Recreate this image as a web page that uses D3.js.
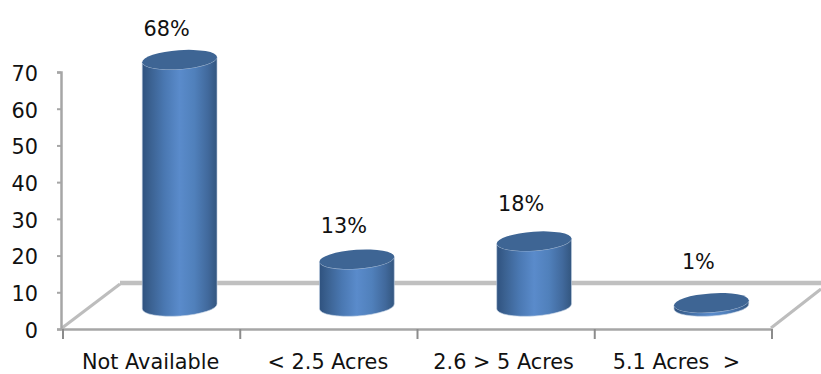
<!DOCTYPE html>
<html><head><meta charset="utf-8">
<script src="https://cdn.jsdelivr.net/npm/d3@7/dist/d3.min.js"></script>
<style>html,body{margin:0;padding:0;background:#fff;overflow:hidden}svg{display:block}text{font-family:"DejaVu Sans",sans-serif;fill:#111}</style>
</head><body><script>
const categories = ["Not Available", "< 2.5 Acres", "2.6 > 5 Acres", "5.1 Acres  >"];
const values = [68, 13, 18, 1];
const valueLabels = ["68%", "13%", "18%", "1%"];
const labelGaps = [24, 26, 30, 34];
const categoryShifts = [0, 0, -1.5, -6];
const yTicks = [0, 10, 20, 30, 40, 50, 60, 70];

const W = 821, H = 374, fs = 20.8;
const svg = d3.select("body").append("svg").attr("width", W).attr("height", H);
const y = d3.scaleLinear().domain([0, 70]).range([329, 72]);
const yBar = d3.scaleLinear().domain([0, 70]).range([306.5, 52.4]);
const xAxisScale = d3.scaleBand().domain(categories).range([62, 771]);
const xBar = d3.scaleBand().domain(categories).range([91, 800]);

const defs = svg.append("defs");
const g = defs.append("linearGradient").attr("id", "side");
[[0, "#2f527f"], [0.1, "#3a608f"], [0.3, "#4a78b2"], [0.5, "#5a8bcb"], [0.7, "#5080bb"], [0.88, "#41699c"], [1, "#33567f"]]
  .forEach(([o, c]) => g.append("stop").attr("offset", o).attr("stop-color", c));

// floor
const floor = svg.append("g").attr("fill", "none");
floor.append("path").attr("d", "M120,283L821,283").attr("stroke", "#c0c0c0").attr("stroke-width", 4.5);
floor.append("path").attr("d", "M62,328L120,284").attr("stroke", "#bdbdbd").attr("stroke-width", 3);
floor.append("path").attr("d", "M771,328L821,289").attr("stroke", "#bdbdbd").attr("stroke-width", 3);

// axes
const yAxis = d3.axisLeft(y).tickValues(yTicks).tickSize(4).tickPadding(6);
const yg = svg.append("g").attr("transform", "translate(61,0)").call(yAxis);
yg.select(".domain").attr("stroke", "#a6a6a6").attr("stroke-width", 2.5);
yg.selectAll(".tick line").attr("stroke", "#a6a6a6").attr("stroke-width", 2);
yg.selectAll("text").attr("font-size", fs).attr("dx", -13).attr("dy", "0.4em");

const bottom = d3.axisBottom(xAxisScale).tickSize(0).tickPadding(25);
const xg = svg.append("g").attr("transform", "translate(0,329)").call(bottom);
xg.select(".domain").attr("stroke", "#a6a6a6").attr("stroke-width", 2.5);
xg.selectAll("text").attr("font-size", fs).attr("xml:space", "preserve").style("white-space", "pre")
  .attr("dx", (d, i) => categoryShifts[i]);
const boundaries = categories.map(c => xAxisScale(c)).concat(xAxisScale.range()[1]);
xg.selectAll("line.t").data(boundaries).join("line").attr("class", "t")
  .attr("x1", d => d + 1).attr("x2", d => d + 1).attr("y1", 0).attr("y2", 10)
  .attr("stroke", "#8c8c8c").attr("stroke-width", 2);

// cylinders
const rx = 37.5, ry = 9.5, rot = -4, th = rot * Math.PI / 180;
const dx = rx * Math.cos(th), dy = -rx * Math.sin(th);
const bars = svg.selectAll("g.bar").data(categories.map((c, i) => ({c, v: values[i]}))).join("g").attr("class", "bar");
bars.append("path")
  .attr("d", d => {
    const cx = xBar(d.c) + xBar.bandwidth() / 2, t = yBar(d.v), b = yBar(0);
    return `M${cx - dx},${t + dy}L${cx - dx},${b + dy}A${rx},${ry} ${rot} 0 0 ${cx + dx},${b - dy}L${cx + dx},${t - dy}A${rx},${ry} ${rot} 0 1 ${cx - dx},${t + dy}Z`;
  })
  .attr("fill", "url(#side)").attr("stroke", "#c4d3e6").attr("stroke-width", 1).attr("stroke-opacity", 0.6);
bars.append("ellipse")
  .attr("rx", rx).attr("ry", ry)
  .attr("transform", d => `translate(${xBar(d.c) + xBar.bandwidth() / 2},${yBar(d.v)}) rotate(${rot})`)
  .attr("fill", "#3e6594");

// value labels
svg.selectAll("text.val").data(categories).join("text").attr("class", "val")
  .attr("x", c => xBar(c) + xBar.bandwidth() / 2 - 13)
  .attr("y", (c, i) => yBar(values[i]) - labelGaps[i])
  .attr("text-anchor", "middle").attr("font-size", fs)
  .text((c, i) => valueLabels[i]);
</script></body></html>
